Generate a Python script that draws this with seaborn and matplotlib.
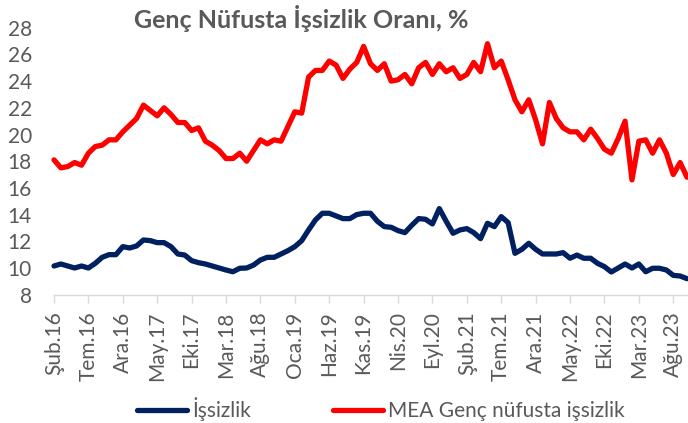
import numpy as np
import pandas as pd
import matplotlib
matplotlib.use("Agg")
import matplotlib.pyplot as plt
import seaborn as sns
from matplotlib.lines import Line2D

# ---- data (monthly, Şub.16 .. Eki.23) ----
unemployment = [
    10.15, 10.3, 10.15, 10.0, 10.15, 10.0, 10.35, 10.8, 11.0, 11.0,
    11.6, 11.5, 11.65, 12.1, 12.05, 11.9, 11.9, 11.6, 11.05, 10.97,
    10.55, 10.4, 10.3, 10.15, 10.0, 9.85, 9.72, 9.98, 10.0, 10.22,
    10.6, 10.8, 10.8, 11.05, 11.3, 11.6, 12.05, 12.85, 13.6, 14.1,
    14.1, 13.9, 13.7, 13.7, 14.0, 14.1, 14.1, 13.5, 13.1, 13.05,
    12.8, 12.65, 13.2, 13.7, 13.65, 13.3, 14.45, 13.5, 12.6, 12.85,
    12.95, 12.65, 12.2, 13.35, 13.1, 13.85, 13.4, 11.1, 11.4, 11.85,
    11.4, 11.05, 11.05, 11.05, 11.15, 10.73, 10.97, 10.73, 10.73, 10.35,
    10.1, 9.7, 10.0, 10.3, 10.0, 10.3, 9.72, 9.98, 9.98, 9.85,
    9.45, 9.4, 9.2,
]
youth = [
    18.1, 17.5, 17.6, 17.9, 17.7, 18.6, 19.1, 19.2, 19.6, 19.6,
    20.2, 20.7, 21.2, 22.2, 21.8, 21.4, 22.0, 21.5, 20.9, 20.9,
    20.3, 20.5, 19.5, 19.2, 18.8, 18.2, 18.2, 18.6, 18.0, 18.8,
    19.6, 19.3, 19.6, 19.5, 20.6, 21.7, 21.6, 24.3, 24.8, 24.8,
    25.5, 25.2, 24.2, 24.9, 25.4, 26.6, 25.3, 24.8, 25.3, 24.0,
    24.1, 24.5, 23.8, 25.0, 25.4, 24.5, 25.3, 24.7, 25.0, 24.2,
    24.5, 25.4, 24.7, 26.8, 25.0, 25.5, 24.1, 22.6, 21.7, 22.6,
    21.1, 19.3, 22.4, 21.2, 20.5, 20.2, 20.2, 19.6, 20.4, 19.7,
    18.9, 18.6, 19.7, 21.0, 16.6, 19.5, 19.6, 18.6, 19.6, 18.6,
    17.0, 17.9, 16.8,
]
tick_labels = ["Şub.16", "Tem.16", "Ara.16", "May.17", "Eki.17", "Mar.18",
               "Ağu.18", "Oca.19", "Haz.19", "Kas.19", "Nis.20", "Eyl.20",
               "Şub.21", "Tem.21", "Ara.21", "May.22", "Eki.22", "Mar.23",
               "Ağu.23"]
series_names = ["İşsizlik", "MEA Genç nüfusta işsizlik"]
title = "Genç Nüfusta İşsizlik Oranı, %"

# ---- style ----
sns.set_theme(style="white")
plt.rcParams["font.family"] = ["Lato", "DejaVu Sans"]
TXT = "#595959"
NAVY = "#002060"
RED = "#FF0000"
FS = 15

n = len(youth)
df = pd.DataFrame({"idx": np.arange(n),
                   series_names[0]: unemployment,
                   series_names[1]: youth})
long = df.melt(id_vars="idx", var_name="series", value_name="value")

fig = plt.figure(figsize=(6.88, 4.23), dpi=100)
ax = fig.add_axes([54 / 688, 1 - 294.7 / 423, (687 - 54) / 688, (294.7 - 27.7) / 423])

sns.lineplot(data=long, x="idx", y="value", hue="series",
             hue_order=series_names, palette=[NAVY, RED],
             linewidth=3.8, ax=ax, legend=False)
for ln in ax.lines:
    ln.set_solid_joinstyle("round")
    ln.set_clip_on(False)

ax.set_xlim(0, n - 1)
ax.set_ylim(8, 28)
ax.set_yticks(np.arange(8, 29, 2))
ax.set_xticks(np.arange(0, n, 5)[:len(tick_labels)])
ax.set_xticklabels(tick_labels, rotation=90)
ax.set_xlabel("")
ax.set_ylabel("")

for s in ["top", "right", "left"]:
    ax.spines[s].set_visible(False)
ax.spines["bottom"].set_color("#D9D9D9")
ax.spines["bottom"].set_linewidth(1.0)
ax.tick_params(axis="x", length=5.5, width=1.0, color="#D9D9D9",
               labelcolor=TXT, labelsize=FS, pad=6.5, direction="out", bottom=True)
ax.tick_params(axis="y", length=0, labelcolor=TXT, labelsize=FS, pad=16)

fig.text(301 / 688, 1 - 28 / 423, title, ha="center", va="baseline",
         fontsize=18, fontweight="bold", color=TXT)

handles = [Line2D([], [], color=NAVY, lw=3.8), Line2D([], [], color=RED, lw=3.8)]
leg = fig.legend(handles, series_names, ncol=2, loc="center",
                 bbox_to_anchor=(381 / 688, 1 - 409 / 423), frameon=False,
                 fontsize=FS, handlelength=2.4, handletextpad=0.25,
                 columnspacing=3.9, labelcolor=TXT, borderaxespad=0)

fig.savefig("out.png", dpi=100)
